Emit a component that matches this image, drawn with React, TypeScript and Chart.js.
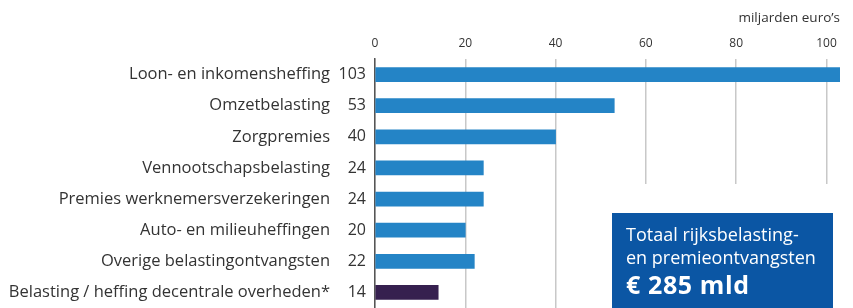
import React, { useEffect, useRef } from "react";
import { Chart, registerables } from "chart.js";

Chart.register(...registerables);

const categories = [
  "Loon- en inkomensheffing",
  "Omzetbelasting",
  "Zorgpremies",
  "Vennootschapsbelasting",
  "Premies werknemersverzekeringen",
  "Auto- en milieuheffingen",
  "Overige belastingontvangsten",
  "Belasting / heffing decentrale overheden*",
];
const values = [103, 53, 40, 24, 24, 20, 22, 14];
const xTicks = [0, 20, 40, 60, 80, 100];
const unitLabel = "miljarden euro\u2019s";
const boxLines = ["Totaal rijksbelasting-", "en premieontvangsten"];
const boxTotal = "\u20ac 285 mld";

const FONT = "'Open Sans', 'DejaVu Sans', sans-serif";
const BLUE = "#2484c6";
const PURPLE = "#36204f";
const BOX = "#0b56a4";
const TEXT = "#333333";

const valuePlugin = {
  id: "valueLabels",
  afterDatasetsDraw(chart: any) {
    const ctx = chart.ctx;
    const meta = chart.getDatasetMeta(0);
    ctx.save();
    ctx.font = `16px ${FONT}`;
    ctx.fillStyle = TEXT;
    ctx.textAlign = "right";
    ctx.textBaseline = "middle";
    meta.data.forEach((el: any, i: number) => {
      ctx.fillText(String(values[i]), chart.chartArea.left - 9, el.y);
    });
    ctx.restore();
  },
};

const boxPlugin = {
  id: "totalBox",
  afterDraw(chart: any) {
    const ctx = chart.ctx;
    ctx.save();
    ctx.fillStyle = "#ffffff";
    ctx.fillRect(600, 184, 253, 130);
    ctx.fillStyle = BOX;
    ctx.fillRect(612, 213, 221, 100);
    ctx.fillStyle = "#ffffff";
    ctx.textAlign = "left";
    ctx.textBaseline = "middle";
    ctx.font = `18px ${FONT}`;
    ctx.fillText(boxLines[0], 626, 236);
    ctx.fillText(boxLines[1], 626, 259);
    ctx.font = `bold 25px ${FONT}`;
    (ctx as any).letterSpacing = "0.6px";
    ctx.fillText(boxTotal, 626, 287);
    (ctx as any).letterSpacing = "0px";
    ctx.fillStyle = TEXT;
    ctx.textAlign = "right";
    ctx.font = `13.5px ${FONT}`;
    ctx.fillText(unitLabel, chart.chartArea.right, 18);
    ctx.restore();
  },
};

export default function App() {
  const ref = useRef<HTMLCanvasElement>(null);
  useEffect(() => {
    if (!ref.current) return;
    const chart = new Chart(ref.current, {
      type: "bar",
      data: {
        labels: categories,
        datasets: [
          {
            data: values,
            backgroundColor: (c: any) =>
              c.dataIndex === values.length - 1 ? PURPLE : BLUE,
            borderWidth: 0,
            barThickness: 14,
          },
        ],
      },
      options: {
        indexAxis: "y",
        responsive: false,
        maintainAspectRatio: false,
        animation: false,
        layout: { padding: { top: 0, right: 13, bottom: 0, left: 0 } },
        plugins: { legend: { display: false }, tooltip: { enabled: false } },
        scales: {
          x: {
            position: "top",
            min: 0,
            max: 103,
            afterBuildTicks: (s: any) => {
              s.ticks = xTicks.map((v) => ({ value: v }));
            },
            afterFit: (s: any) => {
              s.height = 59;
            },
            grid: { color: "#c8c8c8", lineWidth: 1.5, drawTicks: false },
            border: { display: false },
            ticks: {
              font: { family: FONT, size: 12 },
              color: TEXT,
              padding: 8,
            },
          },
          y: {
            afterFit: (s: any) => {
              s.width = 375;
              s.paddingTop = 0;
              s.paddingBottom = 0;
            },
            grid: { display: false, drawTicks: false },
            border: { display: true, color: "#555555", width: 1.5 },
            ticks: {
              font: { family: FONT, size: 16.5 },
              color: TEXT,
              padding: 45,
              autoSkip: false,
            },
          },
        },
      } as any,
      plugins: [valuePlugin, boxPlugin],
    });
    return () => chart.destroy();
  }, []);
  return (
    <div style={{ position: "absolute", left: 0, top: 0, width: 853, height: 308 }}>
      <canvas ref={ref} width={853} height={308} style={{ display: "block" }} />
    </div>
  );
}
